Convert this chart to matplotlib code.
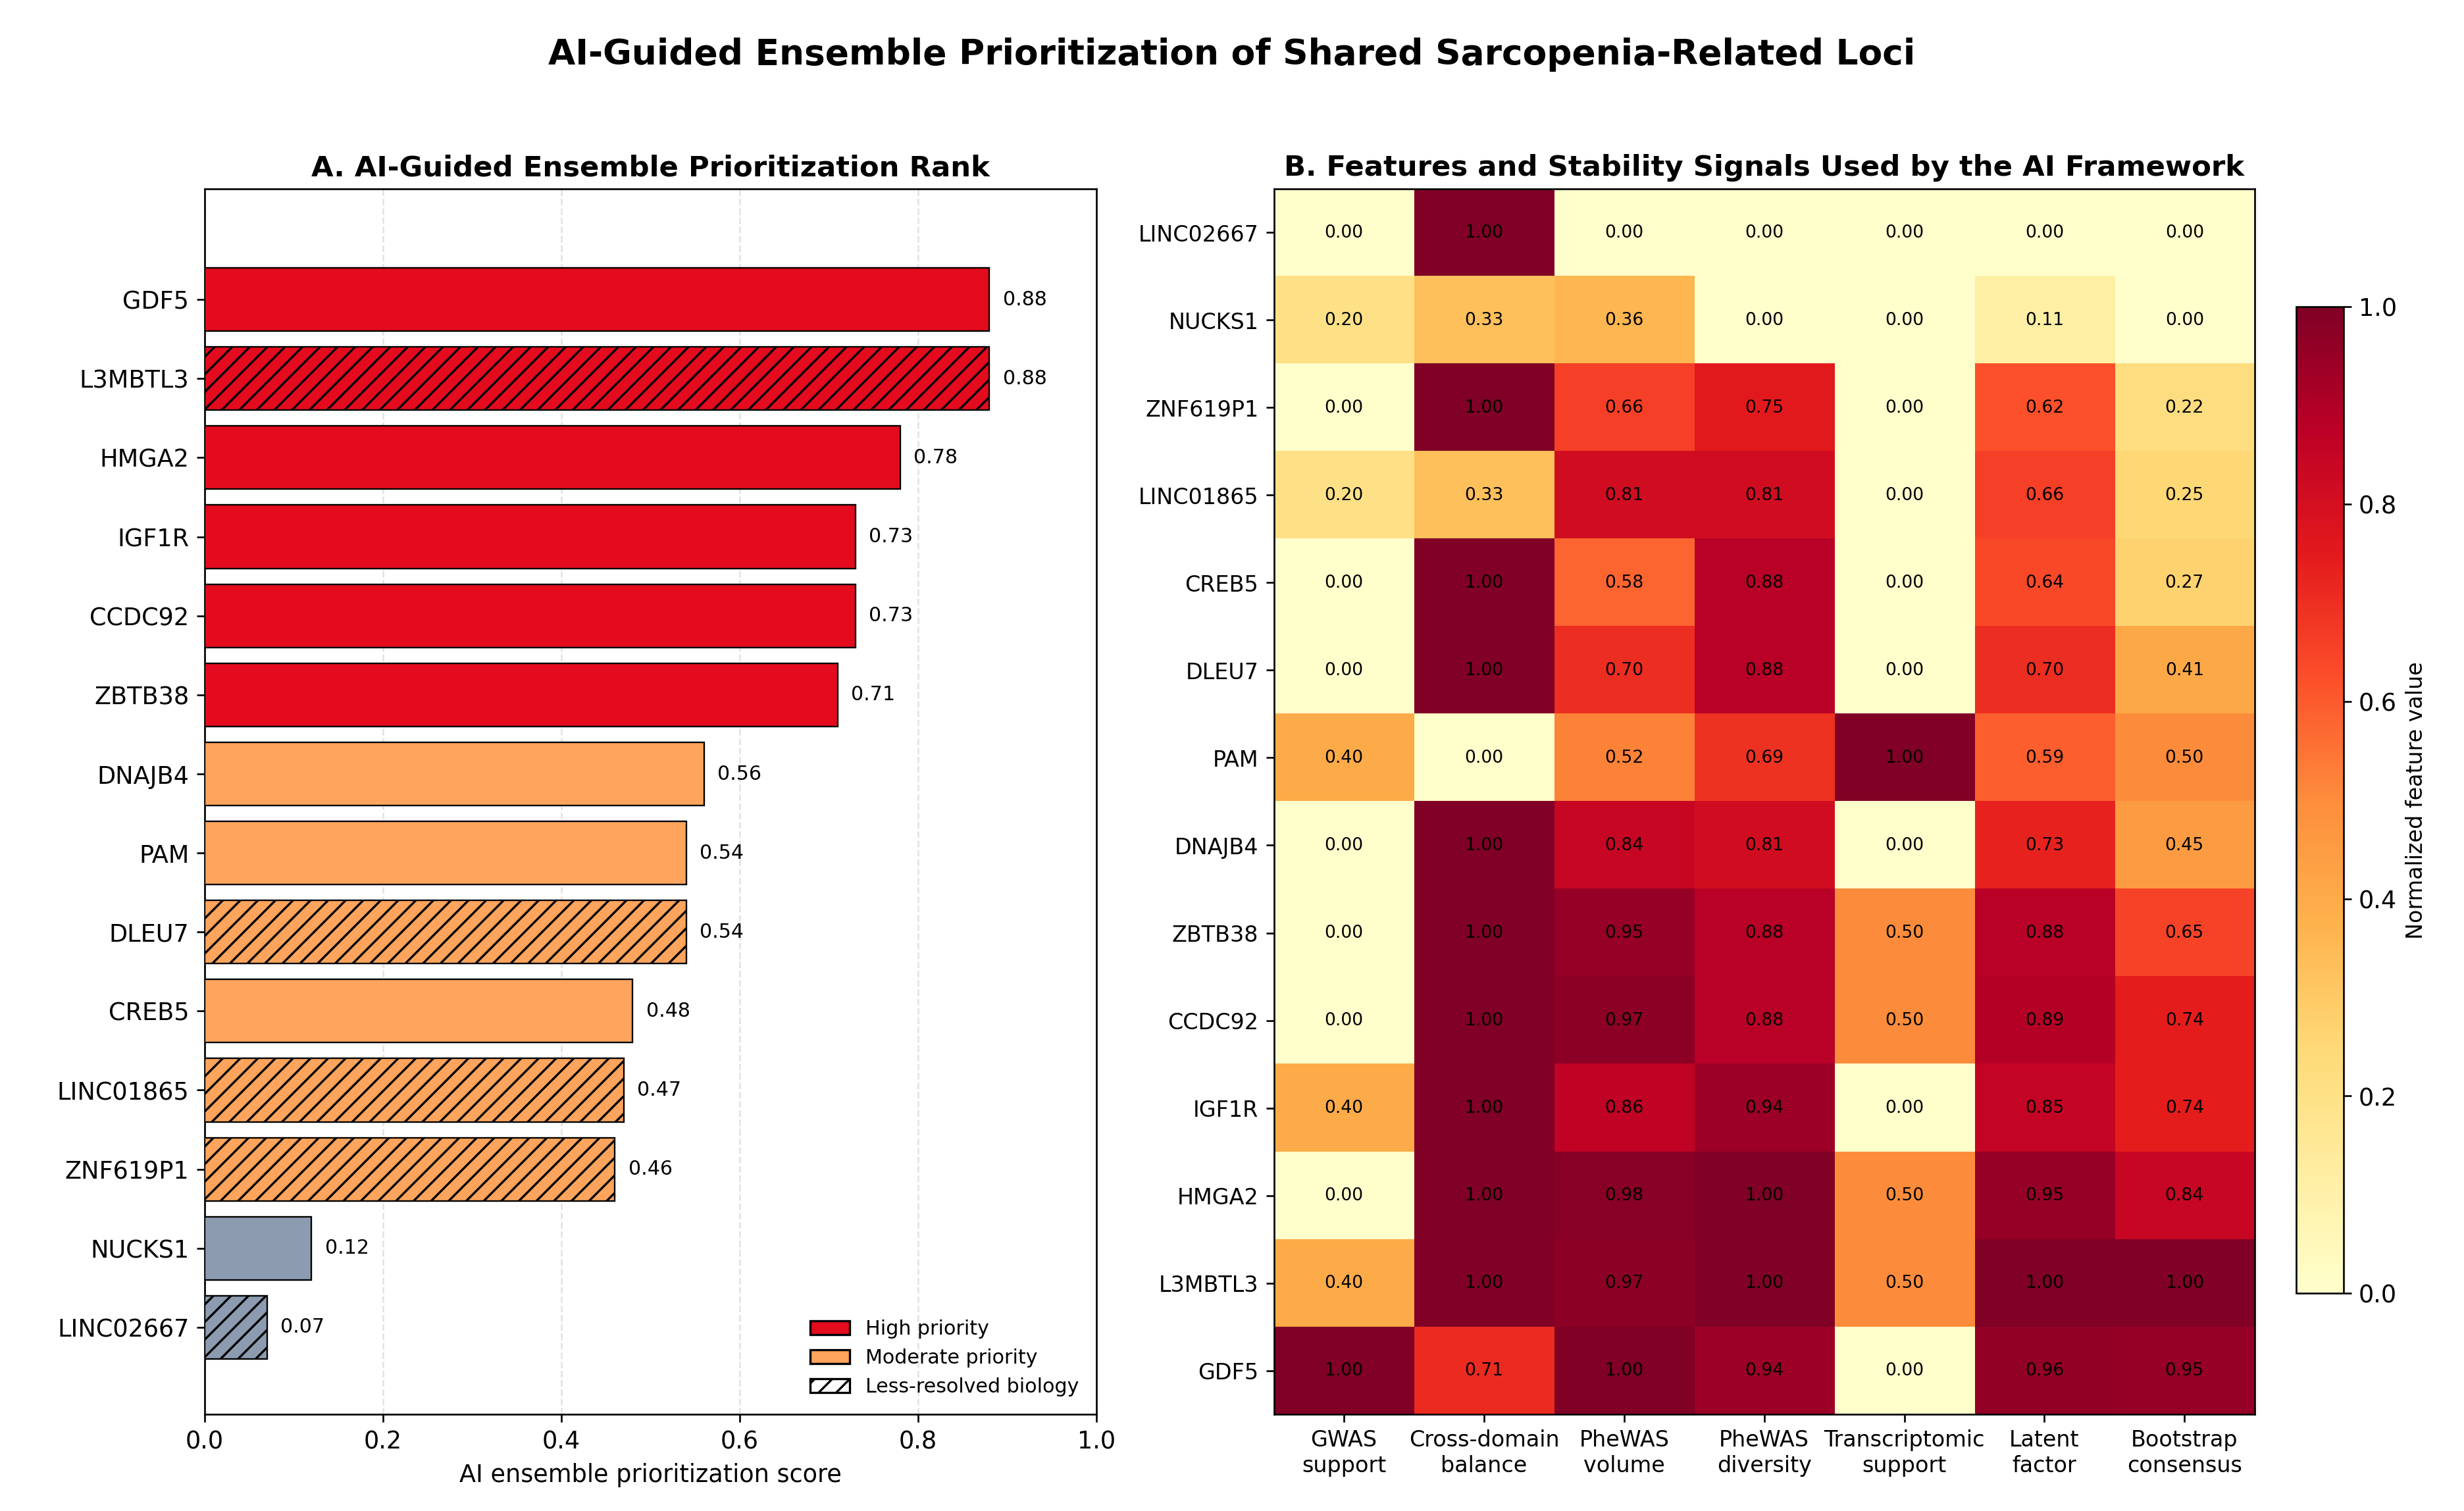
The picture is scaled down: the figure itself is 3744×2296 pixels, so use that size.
import numpy as np
import matplotlib.pyplot as plt
from matplotlib.patches import Patch

genes = ["GDF5", "L3MBTL3", "HMGA2", "IGF1R", "CCDC92", "ZBTB38", "DNAJB4", "PAM",
         "DLEU7", "CREB5", "LINC01865", "ZNF619P1", "NUCKS1", "LINC02667"]
scores = [0.88, 0.88, 0.78, 0.73, 0.73, 0.71, 0.56, 0.54, 0.54, 0.48, 0.47, 0.46, 0.12, 0.07]
tier = ["high"] * 6 + ["moderate"] * 6 + ["low"] * 2
less_resolved = ["L3MBTL3", "DLEU7", "LINC01865", "ZNF619P1", "LINC02667"]

features = ["GWAS\nsupport", "Cross-domain\nbalance", "PheWAS\nvolume", "PheWAS\ndiversity",
            "Transcriptomic\nsupport", "Latent\nfactor", "Bootstrap\nconsensus"]
heat_rows = ["LINC02667", "NUCKS1", "ZNF619P1", "LINC01865", "CREB5", "DLEU7", "PAM",
             "DNAJB4", "ZBTB38", "CCDC92", "IGF1R", "HMGA2", "L3MBTL3", "GDF5"]
heat_vals = [
    [0.00, 1.00, 0.00, 0.00, 0.00, 0.00, 0.00],
    [0.20, 0.33, 0.36, 0.00, 0.00, 0.11, 0.00],
    [0.00, 1.00, 0.66, 0.75, 0.00, 0.62, 0.22],
    [0.20, 0.33, 0.81, 0.81, 0.00, 0.66, 0.25],
    [0.00, 1.00, 0.58, 0.88, 0.00, 0.64, 0.27],
    [0.00, 1.00, 0.70, 0.88, 0.00, 0.70, 0.41],
    [0.40, 0.00, 0.52, 0.69, 1.00, 0.59, 0.50],
    [0.00, 1.00, 0.84, 0.81, 0.00, 0.73, 0.45],
    [0.00, 1.00, 0.95, 0.88, 0.50, 0.88, 0.65],
    [0.00, 1.00, 0.97, 0.88, 0.50, 0.89, 0.74],
    [0.40, 1.00, 0.86, 0.94, 0.00, 0.85, 0.74],
    [0.00, 1.00, 0.98, 1.00, 0.50, 0.95, 0.84],
    [0.40, 1.00, 0.97, 1.00, 0.50, 1.00, 1.00],
    [1.00, 0.71, 1.00, 0.94, 0.00, 0.96, 0.95],
]

colors = {"high": "#e30b1d", "moderate": "#fea45c", "low": "#8c9bb0"}

fig = plt.figure(figsize=(15.6, 9.567), dpi=240)
fig.suptitle("AI-Guided Ensemble Prioritization of Shared Sarcopenia-Related Loci",
             fontsize=16, fontweight="bold", y=0.975)

# Panel A
ax1 = fig.add_axes([0.083, 0.064, 0.362, 0.811])
y = np.arange(len(genes))
for i, (g, s, t) in enumerate(zip(genes, scores, tier)):
    ax1.barh(i, s, height=0.8, color=colors[t], edgecolor="black", linewidth=0.7,
             hatch="///" if g in less_resolved else None, zorder=3)
    ax1.text(s + 0.015, i, f"{s:.2f}", va="center", fontsize=9)
ax1.set_yticks(y)
ax1.set_yticklabels(genes, fontsize=11)
ax1.set_ylim(len(genes) + 0.1, -1.4)
ax1.set_xlim(0, 1.0)
ax1.tick_params(axis="x", labelsize=11)
ax1.set_xlabel("AI ensemble prioritization score", fontsize=11)
ax1.set_title("A. AI-Guided Ensemble Prioritization Rank", fontsize=13, fontweight="bold")
ax1.grid(axis="x", linestyle="--", alpha=0.35, zorder=0)
handles = [Patch(facecolor=colors["high"], edgecolor="black", label="High priority"),
           Patch(facecolor=colors["moderate"], edgecolor="black", label="Moderate priority"),
           Patch(facecolor="white", edgecolor="black", hatch="///", label="Less-resolved biology")]
ax1.legend(handles=handles, loc="lower right", fontsize=9, frameon=False)

# Panel B
ax2 = fig.add_axes([0.517, 0.064, 0.398, 0.811])
data = np.array(heat_vals)
im = ax2.imshow(data, cmap="YlOrRd", vmin=0, vmax=1, aspect="auto")
for r in range(data.shape[0]):
    for c in range(data.shape[1]):
        ax2.text(c, r, f"{data[r, c]:.2f}", ha="center", va="center", fontsize=8)
ax2.set_xticks(np.arange(len(features)))
ax2.set_xticklabels(features, fontsize=10)
ax2.set_yticks(np.arange(len(heat_rows)))
ax2.set_yticklabels(heat_rows, fontsize=10)
ax2.set_title("B. Features and Stability Signals Used by the AI Framework",
              fontsize=13, fontweight="bold")

cax = fig.add_axes([0.932, 0.144, 0.019, 0.653])
cb = fig.colorbar(im, cax=cax)
cb.set_label("Normalized feature value", fontsize=10)
cb.ax.tick_params(labelsize=11)

fig.savefig("out.png", dpi=240)
